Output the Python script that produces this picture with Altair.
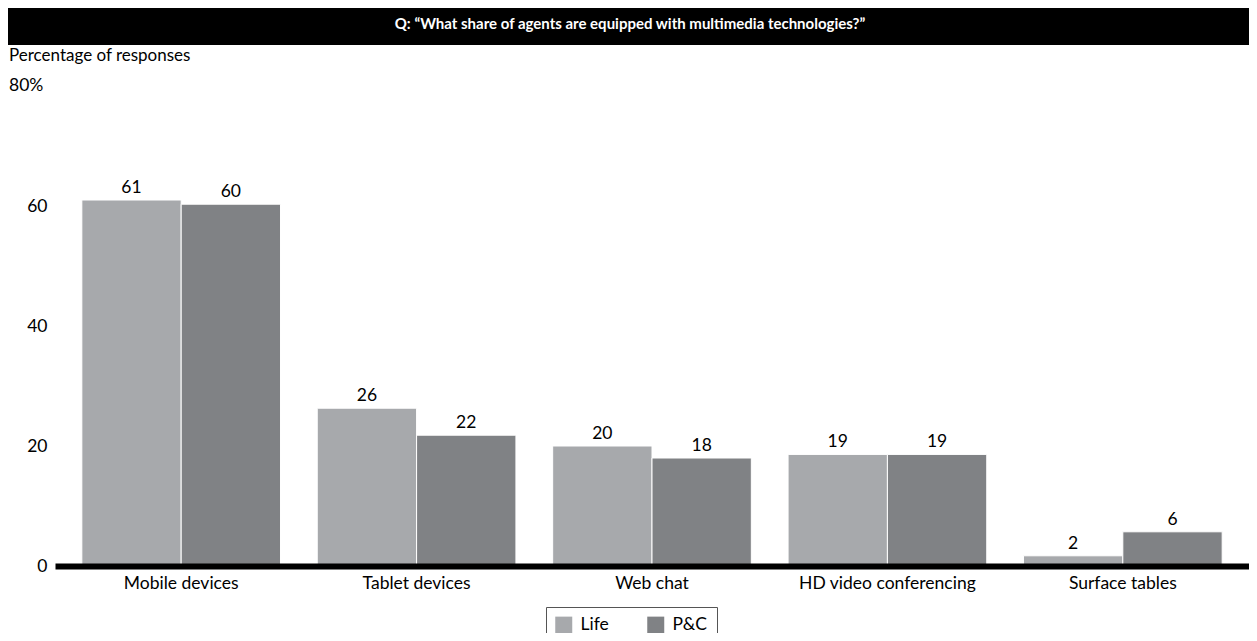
import altair as alt
import pandas as pd

categories = ["Mobile devices", "Tablet devices", "Web chat", "HD video conferencing", "Surface tables"]
life = [61.0, 26.3, 20.0, 18.6, 1.7]
pc = [60.3, 21.8, 18.0, 18.6, 5.7]
series = ["Life", "P&C"]
colors = ["#A7A9AC", "#808285"]
title_text = "Q: \u201cWhat share of agents are equipped with multimedia technologies?\u201d"
y_title = "Percentage of responses"

rows = []
for c, a, b in zip(categories, life, pc):
    rows.append({"category": c, "series": "Life", "value": a})
    rows.append({"category": c, "series": "P&C", "value": b})
df = pd.DataFrame(rows)
one = pd.DataFrame({"k": [0]})

FONT = "Lato"
FS = 17.5
W, H = 1194, 480
PL, PT, PR, PB = 47, 78, 0, 67

x_enc = alt.X("category:N", sort=categories, title=None,
              scale=alt.Scale(paddingInner=0.156, paddingOuter=0.114),
              axis=alt.Axis(labelAngle=0, ticks=False, domainColor="black", domainWidth=6,
                            labelFontSize=FS, labelColor="black", labelPadding=8,
                            labelFont=FONT, zindex=1))
y_enc = alt.Y("value:Q", title=None,
              scale=alt.Scale(domain=[0, 80]),
              axis=alt.Axis(values=[0, 20, 40, 60], ticks=False, domain=False, grid=False,
                            labelFontSize=FS, labelColor="black", labelPadding=8,
                            labelFont=FONT))

base = alt.Chart(df).encode(
    x=x_enc,
    xOffset=alt.XOffset("series:N", sort=series, scale=alt.Scale(paddingInner=0)),
)

bars = base.mark_bar(stroke="white", strokeWidth=1).encode(
    y=y_enc,
    color=alt.Color("series:N", sort=series,
                    scale=alt.Scale(domain=series, range=colors),
                    legend=alt.Legend(title=None, orient="none", direction="horizontal",
                                      legendX=491, legendY=521,
                                      symbolType="square", symbolSize=289,
                                      symbolStrokeWidth=0, symbolOpacity=1,
                                      labelFontSize=FS, labelFont=FONT, labelColor="black",
                                      labelOffset=8,
                                      columnPadding=38, padding=9,
                                      strokeColor="#555555", fillColor="white")),
)

labels = base.mark_text(baseline="alphabetic", dy=-7, fontSize=FS, font=FONT, color="black").encode(
    y=alt.Y("value:Q"),
    text=alt.Text("value:Q", format=".0f"),
)

bar_bg = alt.Chart(one).mark_rect(color="black").encode(
    x=alt.value(-PL), x2=alt.value(W + PR),
    y=alt.value(-PT), y2=alt.value(-41),
)
title_mark = alt.Chart(one).mark_text(color="white", fontSize=15, fontWeight="bold",
                                      font=FONT, align="center", baseline="middle").encode(
    x=alt.value(630 - 55), y=alt.value(-62), text=alt.value(title_text),
)
ytitle = alt.Chart(one).mark_text(color="black", fontSize=17, font=FONT,
                                  align="left", baseline="middle").encode(
    x=alt.value(-PL + 1), y=alt.value(-30), text=alt.value(y_title),
)
y80 = alt.Chart(one).mark_text(color="black", fontSize=FS, font=FONT,
                               align="left", baseline="middle").encode(
    x=alt.value(-PL + 1), y=alt.datum(80), text=alt.value("80%"),
)

chart = alt.layer(bar_bg, title_mark, ytitle, bars, labels, y80).properties(
    width=W, height=H,
    autosize=alt.AutoSizeParams(type="none"),
    padding={"left": PL, "top": PT, "right": PR, "bottom": PB},
).configure(font=FONT).configure_view(stroke=None)

chart.save("out.html", embed_options={"renderer": "svg", "actions": False})
